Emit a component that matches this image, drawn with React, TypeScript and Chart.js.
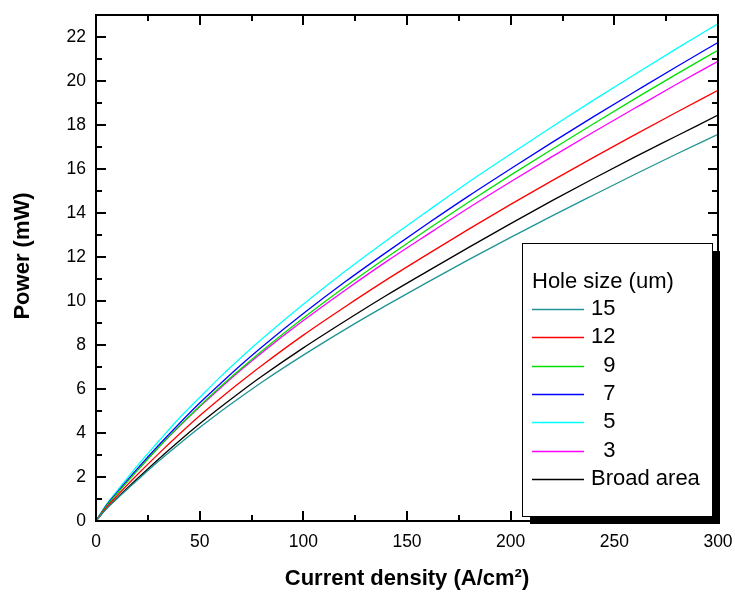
import React, { useEffect, useRef } from "react";
import { Chart, registerables } from "chart.js";

Chart.register(...registerables);

// ---- data ----
const currentDensity = [0, 5, 10, 20, 30, 40, 50, 60, 70, 80, 100, 120, 140, 160, 180, 200, 220, 240, 260, 280, 300];
const hole15 = [0, 0.55, 1.0, 1.86, 2.7, 3.49, 4.25, 4.97, 5.65, 6.31, 7.54, 8.7, 9.8, 10.86, 11.89, 12.89, 13.87, 14.82, 15.76, 16.68, 17.58];
const hole12 = [0, 0.62, 1.13, 2.11, 3.04, 3.93, 4.78, 5.58, 6.34, 7.07, 8.45, 9.73, 10.96, 12.13, 13.28, 14.39, 15.47, 16.53, 17.56, 18.58, 19.58];
const hole9 = [0, 0.68, 1.23, 2.3, 3.33, 4.3, 5.22, 6.1, 6.93, 7.73, 9.23, 10.64, 11.97, 13.26, 14.51, 15.72, 16.9, 18.06, 19.2, 20.31, 21.4];
const hole7 = [0, 0.71, 1.28, 2.38, 3.42, 4.41, 5.36, 6.24, 7.1, 7.91, 9.43, 10.86, 12.21, 13.52, 14.79, 16.01, 17.21, 18.38, 19.52, 20.65, 21.75];
const hole5 = [0, 0.75, 1.35, 2.52, 3.6, 4.66, 5.61, 6.55, 7.43, 8.27, 9.85, 11.34, 12.74, 14.09, 15.42, 16.68, 17.92, 19.13, 20.31, 21.47, 22.6];
const hole3 = [0, 0.69, 1.25, 2.31, 3.33, 4.28, 5.19, 6.05, 6.87, 7.65, 9.11, 10.48, 11.79, 13.03, 14.25, 15.42, 16.56, 17.68, 18.77, 19.85, 20.9];
const broadArea = [0, 0.56, 1.03, 1.93, 2.8, 3.63, 4.42, 5.17, 5.89, 6.58, 7.87, 9.08, 10.25, 11.36, 12.45, 13.52, 14.56, 15.57, 16.55, 17.5, 18.45];

const seriesLabels = ["15", "12", "  9", "  7", "  5", "  3", "Broad area"];
const seriesColors = ["#1f9494", "#ff0000", "#00e000", "#0000ff", "#00ffff", "#ff00ff", "#000000"];
const seriesValues = [hole15, hole12, hole9, hole7, hole5, hole3, broadArea];

const xMajorTicks = [0, 50, 100, 150, 200, 250, 300];
const xMinorTicks = [25, 75, 125, 175, 225, 275];
const yMajorTicks = [0, 2, 4, 6, 8, 10, 12, 14, 16, 18, 20, 22];
const yMinorTicks = [1, 3, 5, 7, 9, 11, 13, 15, 17, 19, 21];

const legendTitle = "Hole size (um)";
const xTitle = "Current density (A/cm\u00B2)";
const yTitle = "Power (mW)";

const FONT = "'Liberation Sans', Arial, Helvetica, sans-serif";

const framePlugin = {
  id: "frameTicks",
  afterDatasetsDraw(chart: any) {
    const { ctx, chartArea, scales } = chart;
    const { left, right, top, bottom } = chartArea;
    const x = scales.x;
    const y = scales.y;
    ctx.save();
    ctx.strokeStyle = "#000";
    ctx.lineWidth = 2;
    ctx.beginPath();
    const tick = (px: number, len: number, horizontal: boolean) => {
      if (horizontal) {
        ctx.moveTo(px, bottom);
        ctx.lineTo(px, bottom - len);
        ctx.moveTo(px, top);
        ctx.lineTo(px, top + len);
      } else {
        ctx.moveTo(left, px);
        ctx.lineTo(left + len, px);
        ctx.moveTo(right, px);
        ctx.lineTo(right - len, px);
      }
    };
    xMajorTicks.forEach((v) => tick(Math.round(x.getPixelForValue(v)), 10, true));
    xMinorTicks.forEach((v) => tick(Math.round(x.getPixelForValue(v)), 6, true));
    yMajorTicks.forEach((v) => tick(Math.round(y.getPixelForValue(v)), 10, false));
    yMinorTicks.forEach((v) => tick(Math.round(y.getPixelForValue(v)), 6, false));
    ctx.stroke();
    ctx.strokeRect(left, top, right - left, bottom - top);
    ctx.restore();
  },
};

const legendPlugin = {
  id: "boxLegend",
  afterDraw(chart: any) {
    const { ctx } = chart;
    const bx = 522;
    const by = 243;
    const bw = 190;
    const bh = 273;
    ctx.save();
    ctx.fillStyle = "#000";
    ctx.fillRect(bx + 8, by + 8, bw, bh);
    ctx.fillStyle = "#fff";
    ctx.fillRect(bx, by, bw, bh);
    ctx.strokeStyle = "#000";
    ctx.lineWidth = 1;
    ctx.strokeRect(bx + 0.5, by + 0.5, bw, bh);
    ctx.fillStyle = "#000";
    ctx.font = `22px ${FONT}`;
    ctx.textBaseline = "middle";
    ctx.textAlign = "left";
    ctx.fillText(legendTitle, bx + 10, by + 39);
    chart.data.datasets.forEach((ds: any, i: number) => {
      const cy = by + 66 + i * 28.3;
      ctx.strokeStyle = ds.borderColor;
      ctx.lineWidth = 1.3;
      ctx.beginPath();
      ctx.moveTo(bx + 10, Math.round(cy) + 0.5);
      ctx.lineTo(bx + 62, Math.round(cy) + 0.5);
      ctx.stroke();
      ctx.fillStyle = "#000";
      ctx.fillText(ds.label, bx + 69, cy);
    });
    ctx.restore();
  },
};

const yTitlePlugin = {
  id: "yTitle",
  afterDraw(chart: any) {
    const { ctx } = chart;
    ctx.save();
    ctx.translate(23, 256);
    ctx.rotate(-Math.PI / 2);
    ctx.font = `bold 22px ${FONT}`;
    ctx.fillStyle = "#000";
    ctx.textAlign = "center";
    ctx.textBaseline = "middle";
    ctx.fillText(yTitle, 0, 0);
    ctx.restore();
  },
};

export default function App() {
  const canvasRef = useRef<HTMLCanvasElement | null>(null);

  useEffect(() => {
    if (!canvasRef.current) return;
    const datasets = seriesValues.map((vals, i) => ({
      label: seriesLabels[i],
      data: currentDensity.map((xv, j) => ({ x: xv, y: vals[j] })),
      borderColor: seriesColors[i],
      backgroundColor: seriesColors[i],
      borderWidth: 1.3,
      pointRadius: 0,
      fill: false,
      cubicInterpolationMode: "monotone" as const,
    }));
    const chart = new Chart(canvasRef.current, {
      type: "line",
      data: { datasets },
      options: {
        animation: false,
        responsive: false,
        layout: { padding: { top: 15, right: 17, left: 0, bottom: 0 } },
        plugins: { legend: { display: false }, tooltip: { enabled: false } },
        scales: {
          x: {
            type: "linear",
            min: 0,
            max: 300,
            grid: { display: false, drawTicks: false },
            border: { display: false },
            afterBuildTicks: (s: any) => {
              s.ticks = xMajorTicks.map((v) => ({ value: v }));
            },
            afterFit: (s: any) => {
              s.height = 71;
              s.paddingLeft = 0;
              s.paddingRight = 0;
              s.paddingTop = 0;
              s.paddingBottom = 0;
            },
            ticks: {
              padding: 11,
              maxRotation: 0,
              color: "#000",
              font: { family: FONT, size: 17.5 },
            },
            title: {
              display: true,
              text: xTitle,
              color: "#000",
              font: { family: FONT, size: 22, weight: "bold" },
              padding: { top: 0, bottom: 0 },
            },
          },
          y: {
            type: "linear",
            min: 0,
            max: 23,
            grid: { display: false, drawTicks: false },
            border: { display: false },
            afterBuildTicks: (s: any) => {
              s.ticks = yMajorTicks.map((v) => ({ value: v }));
            },
            afterFit: (s: any) => {
              s.width = 96;
              s.paddingLeft = 0;
              s.paddingRight = 0;
              s.paddingTop = 0;
              s.paddingBottom = 0;
            },
            ticks: {
              padding: 10,
              color: "#000",
              font: { family: FONT, size: 17.5 },
            },
          },
        },
      },
      plugins: [framePlugin, legendPlugin, yTitlePlugin],
    });
    return () => chart.destroy();
  }, []);

  return (
    <div style={{ position: "fixed", left: 0, top: 0, width: 735, height: 592, background: "#fff" }}>
      <canvas ref={canvasRef} width={735} height={592} />
    </div>
  );
}
